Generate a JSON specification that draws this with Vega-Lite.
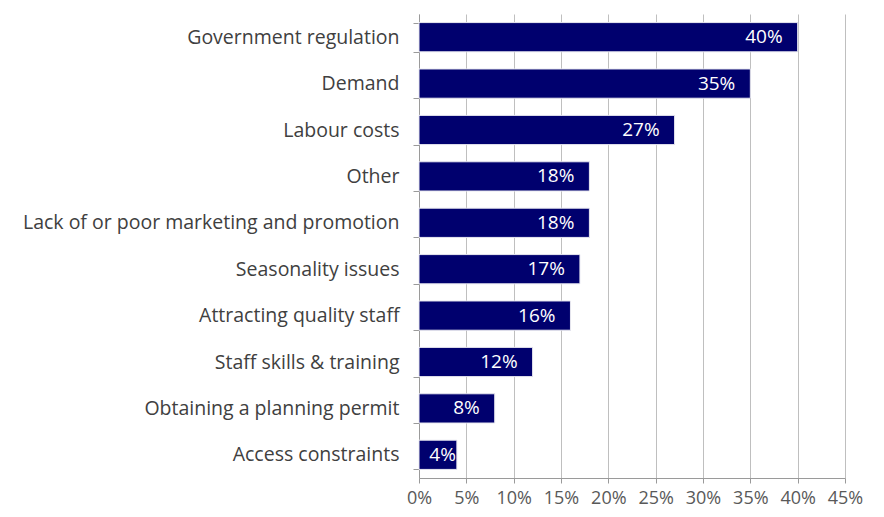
{
  "$schema": "https://vega.github.io/schema/vega-lite/v6.json",
  "autosize": {"type": "none"},
  "padding": {"left": 419, "top": 14, "right": 39, "bottom": 39},
  "width": 426,
  "height": 464,
  "background": "white",
  "config": {"view": {"stroke": null}, "font": "Open Sans"},
  "data": {
    "values": [
      {"factor": "Government regulation", "share": 0.40},
      {"factor": "Demand", "share": 0.35},
      {"factor": "Labour costs", "share": 0.27},
      {"factor": "Other", "share": 0.18},
      {"factor": "Lack of or poor marketing and promotion", "share": 0.18},
      {"factor": "Seasonality issues", "share": 0.17},
      {"factor": "Attracting quality staff", "share": 0.16},
      {"factor": "Staff skills & training", "share": 0.12},
      {"factor": "Obtaining a planning permit", "share": 0.08},
      {"factor": "Access constraints", "share": 0.04}
    ]
  },
  "encoding": {
    "y": {
      "field": "factor",
      "type": "nominal",
      "sort": null,
      "scale": {"paddingInner": 0.37, "paddingOuter": 0.185},
      "axis": {
        "title": null,
        "labelFontSize": 19.5,
        "labelColor": "#404040",
        "labelPadding": 14,
        "labelFont": "Open Sans",
        "tickBand": "extent",
        "tickSize": 6,
        "tickColor": "#9a9a9a",
        "domainColor": "#9a9a9a",
        "labelLimit": 420
      }
    }
  },
  "layer": [
    {
      "mark": {"type": "bar", "color": "#00006e", "stroke": "#e8e8f0", "strokeWidth": 1},
      "encoding": {
        "x": {
          "field": "share",
          "type": "quantitative",
          "scale": {"domain": [0, 0.45], "nice": false},
          "axis": {
            "title": null,
            "format": ".0%",
            "values": [0, 0.05, 0.1, 0.15, 0.2, 0.25, 0.3, 0.35, 0.4, 0.45],
            "labelFontSize": 18,
            "labelColor": "#595959",
            "labelPadding": 6,
            "tickSize": 5,
            "tickColor": "#9a9a9a",
            "domainColor": "#9a9a9a",
            "grid": true,
            "gridColor": "#bfbfbf",
            "labelFlush": false
          }
        }
      }
    },
    {
      "transform": [{"filter": "datum.share >= 0.05"}],
      "mark": {"type": "text", "align": "right", "baseline": "middle", "dx": -15, "color": "white", "fontSize": 19, "font": "Open Sans"},
      "encoding": {
        "x": {"field": "share", "type": "quantitative"},
        "text": {"field": "share", "type": "quantitative", "format": ".0%"}
      }
    },
    {
      "transform": [{"filter": "datum.share < 0.05"}],
      "mark": {"type": "text", "align": "right", "baseline": "middle", "dx": -1, "color": "white", "fontSize": 19, "font": "Open Sans"},
      "encoding": {
        "x": {"field": "share", "type": "quantitative"},
        "text": {"field": "share", "type": "quantitative", "format": ".0%"}
      }
    }
  ]
}
